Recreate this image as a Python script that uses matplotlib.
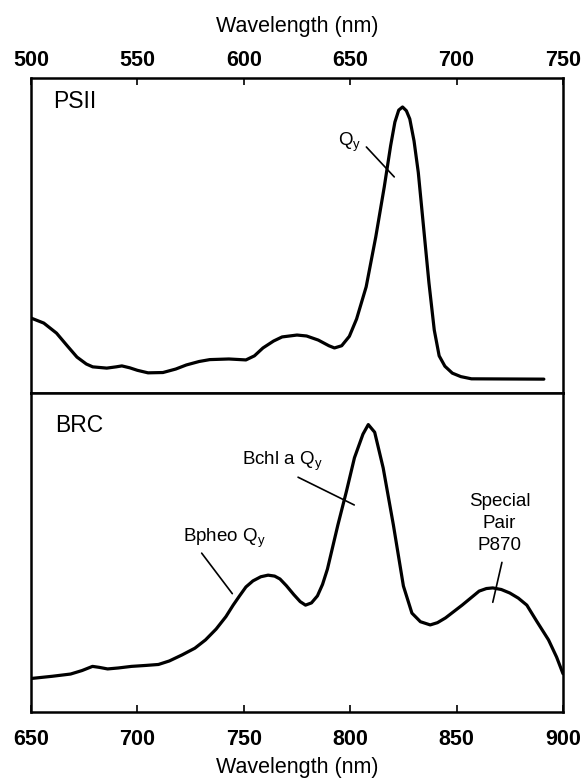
import matplotlib
matplotlib.use("Agg")
import matplotlib.pyplot as plt

plt.rcParams["font.family"] = ["Liberation Sans", "DejaVu Sans"]
plt.rcParams["mathtext.default"] = "regular"

# PSII absorption (top panel, 500-750 nm)
psii_nm = [500, 506, 512, 517, 521.6, 526, 529, 535.6, 540, 542.7, 546.4, 550, 555, 562,
           568, 573, 579, 584, 593, 601, 605, 609, 614, 618, 625, 629.5, 635, 640,
           642.6, 646, 649.6, 653, 657.5, 662, 666, 669, 671, 672.8, 674.6, 676.4,
           678, 680, 682, 684, 687, 689.5, 691.8, 694.5, 698, 702, 707, 741]
psii_abs = [0.238, 0.222, 0.19, 0.15, 0.114, 0.092, 0.083, 0.079, 0.083, 0.086, 0.080, 0.072,
            0.064, 0.065, 0.076, 0.089, 0.100, 0.106, 0.108, 0.105, 0.118, 0.143, 0.165,
            0.178, 0.184, 0.181, 0.168, 0.150, 0.143, 0.150, 0.180, 0.235, 0.337, 0.495,
            0.654, 0.785, 0.86, 0.898, 0.908, 0.896, 0.87, 0.80, 0.70, 0.56, 0.35, 0.20,
            0.118, 0.085, 0.063, 0.052, 0.045, 0.044]

# Bacterial reaction centre absorption (bottom panel, 650-900 nm)
brc_nm = [650, 660, 668.6, 674, 678.9, 682, 686, 691, 697.2, 704, 709.9, 715, 721, 727, 732,
          737, 741.6, 745, 748, 751, 754.3, 758, 761.4, 764.5, 767, 770, 773.5, 776.5, 779,
          781.8, 784.6, 787, 789.3, 794.2, 798.2, 802, 806, 808.5, 811.5, 815.5, 820.3,
          825, 829, 833, 837.6, 841, 844.8, 852.6, 860.6, 864, 867, 871, 875, 879, 883,
          887.7, 893.2, 897, 900]
brc_abs = [0.105, 0.112, 0.119, 0.130, 0.143, 0.140, 0.135, 0.138, 0.143, 0.146, 0.149, 0.160,
           0.179, 0.200, 0.226, 0.260, 0.299, 0.335, 0.364, 0.392, 0.411, 0.424, 0.429, 0.426,
           0.417, 0.396, 0.368, 0.346, 0.335, 0.342, 0.364, 0.400, 0.448, 0.586, 0.691, 0.797,
           0.871, 0.901, 0.877, 0.765, 0.586, 0.395, 0.310, 0.283, 0.273, 0.280, 0.295, 0.335,
           0.379, 0.387, 0.389, 0.384, 0.373, 0.357, 0.335, 0.284, 0.226, 0.172, 0.12]

top_ticks = [500, 550, 600, 650, 700, 750]
bottom_ticks = [650, 700, 750, 800, 850, 900]

fig = plt.figure(figsize=(5.87, 7.82), dpi=100)
left, right = 31 / 587, 563 / 587
y_bot, y_mid, y_top = (782 - 712) / 782, (782 - 393) / 782, (782 - 78) / 782
ax1 = fig.add_axes([left, y_mid, right - left, y_top - y_mid])
ax2 = fig.add_axes([left, y_bot, right - left, y_mid - y_bot])

ax1.plot(psii_nm, psii_abs, color="black", lw=2.3, solid_capstyle="round")
ax2.plot(brc_nm, brc_abs, color="black", lw=2.3, solid_capstyle="round")

ax1.set_xlim(500, 750)
ax2.set_xlim(650, 900)
for ax in (ax1, ax2):
    ax.set_ylim(0, 1)
    ax.set_yticks([])
    for s in ax.spines.values():
        s.set_linewidth(1.8)

ax1.xaxis.set_ticks_position("top")
ax1.xaxis.set_label_position("top")
ax1.set_xticks(top_ticks)
ax1.tick_params(axis="x", direction="in", length=5, width=1.2, labelsize=15.5, pad=5)
ax1.set_xlabel("Wavelength (nm)", fontsize=15.5, labelpad=13)

ax2.set_xticks(bottom_ticks)
ax2.tick_params(axis="x", direction="in", length=5, width=1.2, labelsize=15.5, pad=12)
ax2.set_xlabel("Wavelength (nm)", fontsize=15.5, labelpad=5)

for ax in (ax1, ax2):
    for lab in ax.get_xticklabels():
        lab.set_fontweight("bold")

ax1.text(510.3, 0.924, "PSII", fontsize=16.5, ha="left", va="center")
ax2.text(661.3, 0.898, "BRC", fontsize=16.5, ha="left", va="center")

line_kw = dict(arrowprops=dict(arrowstyle="-", color="black", lw=1.2, shrinkA=0, shrinkB=0))

ax1.text(649.6, 0.797, "Q$_y$", fontsize=13.5, ha="center", va="center")
ax1.annotate("", xy=(670.7, 0.686), xytext=(657.6, 0.781), **line_kw)

ax2.text(741, 0.543, "Bpheo Q$_y$", fontsize=13.5, ha="center", va="center")
ax2.annotate("", xy=(744.6, 0.371), xytext=(730.2, 0.498), **line_kw)

ax2.text(768, 0.787, "Bchl a Q$_y$", fontsize=13.5, ha="center", va="center")
ax2.annotate("", xy=(801.9, 0.649), xytext=(775.5, 0.736), **line_kw)

ax2.text(870.2, 0.59, "Special\nPair\nP870", fontsize=13.5, ha="center", va="center",
         linespacing=1.4)
ax2.annotate("", xy=(867, 0.344), xytext=(871.3, 0.469), **line_kw)

fig.savefig("out.png", dpi=100)
